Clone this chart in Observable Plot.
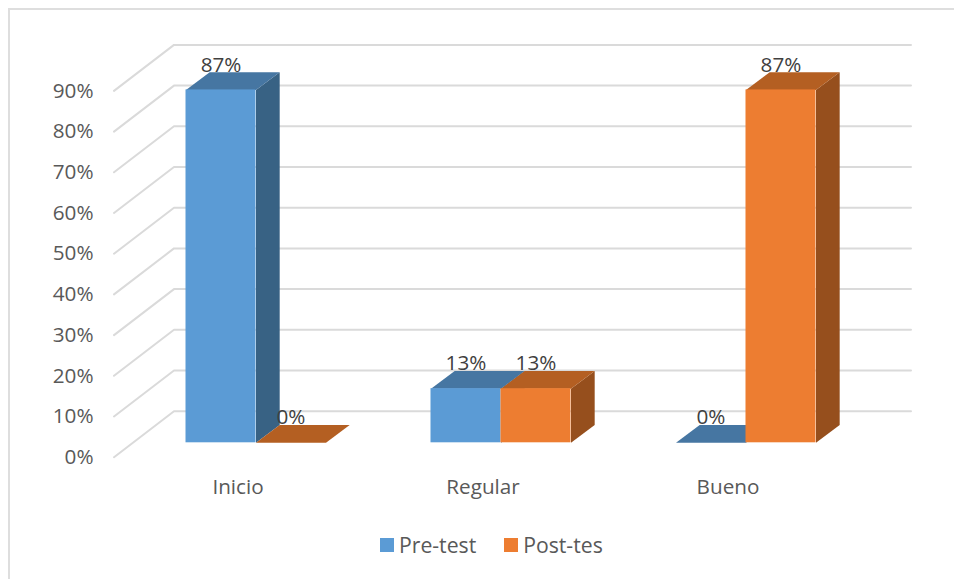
<!DOCTYPE html>
<html>
<head>
<meta charset="utf-8">
<script src="https://cdn.jsdelivr.net/npm/d3@7"></script>
<script src="https://cdn.jsdelivr.net/npm/@observablehq/plot@0.6"></script>
<style>
  html, body { margin: 0; padding: 0; background: #fff; }
  #page { position: relative; width: 954px; height: 579px; overflow: hidden; font-family: "Open Sans", sans-serif; }
  #frame { position: absolute; left: 8px; top: 8px; width: 960px; height: 600px; border: 2px solid #dedede; box-sizing: border-box; }
  #chart { position: absolute; left: 0; top: 0; }
  #chart svg { background: transparent; display: block; }
  #legend { position: absolute; left: 380px; top: 529px; display: flex; font-size: 21.2px; color: #595959; line-height: 32px; }
  #legend .item { display: flex; align-items: center; margin-right: 28px; }
  #legend .sw { width: 14px; height: 14px; margin-right: 5px; }
</style>
</head>
<body>
<div id="page">
  <div id="frame"></div>
  <div id="chart"></div>
  <div id="legend"></div>
</div>
<script>
const categories = ["Inicio", "Regular", "Bueno"];
const seriesNames = ["Pre-test", "Post-tes"];
const preTest = [86.7, 13.3, 0];
const postTest = [0, 13.3, 86.7];
const tickValues = [0, 10, 20, 30, 40, 50, 60, 70, 80, 90];

const frontColors = ["#5b9bd5", "#ed7d31"];
const topColors = ["#4676a2", "#b45f22"];
const sideColors = ["#386284", "#964f1d"];

// oblique projection, in scale units
const barW = 0.2857, depthX = 0.0967, depthY = 4.35;
const wallX = -0.3347, wallY = 7.76, floorX = -0.5796, floorY = -3.54;

const bars = [];
[preTest, postTest].forEach((vals, s) => vals.forEach((v, i) => bars.push({
  s, i, v, x1: s === 0 ? i - barW : i, x2: s === 0 ? i : i + barW
})));

const poly = (id, fill, pts) => pts.map(([x, y]) => ({id, fill, x, y}));

const tops = bars.flatMap((b, k) => poly("t" + k, topColors[b.s], [
  [b.x1, b.v], [b.x2, b.v], [b.x2 + depthX, b.v + depthY], [b.x1 + depthX, b.v + depthY]
]));
const sides = bars.filter(b => b.v > 0).flatMap((b, k) => poly("s" + k, sideColors[b.s], [
  [b.x2, 0], [b.x2 + depthX, depthY], [b.x2 + depthX, b.v + depthY], [b.x2, b.v]
]));
const grid = tickValues.flatMap(t => [
  {t, x: floorX, y: t + floorY},
  {t, x: wallX, y: t + wallY},
  {t, x: 2.6735, y: t + wallY}
]);

const faces = s => bars.filter(b => b.s === s);
const sidesOf = s => sides.filter(d => d.fill === sideColors[s]);
const topsOf = s => tops.filter(d => d.fill === topColors[s]);

const layer = s => [
  Plot.line(sidesOf(s), {x: "x", y: "y", z: "id", fill: "fill", stroke: "none"}),
  Plot.line(topsOf(s), {x: "x", y: "y", z: "id", fill: "fill", stroke: "none"}),
  Plot.rect(faces(s).filter(b => b.v > 0), {x1: "x1", x2: "x2", y1: 0, y2: "v", fill: frontColors[s]})
];

const plot = Plot.plot({
  width: 954,
  height: 523,
  marginLeft: 113.5,
  marginRight: 43.5,
  marginTop: 35.3,
  marginBottom: 80.7,
  style: {background: "transparent", fontFamily: "'Open Sans', sans-serif"},
  x: {domain: [floorX, 2.6735]},
  y: {domain: [0, 100]},
  marks: [
    Plot.line(grid, {x: "x", y: "y", z: "t", stroke: "#dadada", strokeWidth: 2}),
    // draw in the order the 3D shapes overlap
    ...layer(0),
    ...layer(1),
    Plot.axisY(tickValues, {
      anchor: "left", tickSize: 0, tickPadding: 20.5, dy: 14.5,
      tickFormat: d => d + "%", label: null, fontSize: 20.7, fill: "#595959"
    }),
    Plot.axisX([0, 1, 2], {
      anchor: "bottom", tickSize: 0, tickPadding: 36.5, dx: -18,
      tickFormat: i => categories[i], label: null, fontSize: 20.7, fill: "#595959"
    }),
    Plot.text(bars, {
      x: b => (b.x1 + b.x2) / 2, y: "v", text: b => Math.round(b.v) + "%",
      dy: -25, fontSize: 20.7, fill: "#404040"
    })
  ]
});
document.getElementById("chart").append(plot);

const legend = document.getElementById("legend");
seriesNames.forEach((name, s) => {
  const item = document.createElement("div");
  item.className = "item";
  const sw = document.createElement("div");
  sw.className = "sw";
  sw.style.background = frontColors[s];
  const label = document.createElement("span");
  label.textContent = name;
  item.append(sw, label);
  legend.append(item);
});
</script>
</body>
</html>
